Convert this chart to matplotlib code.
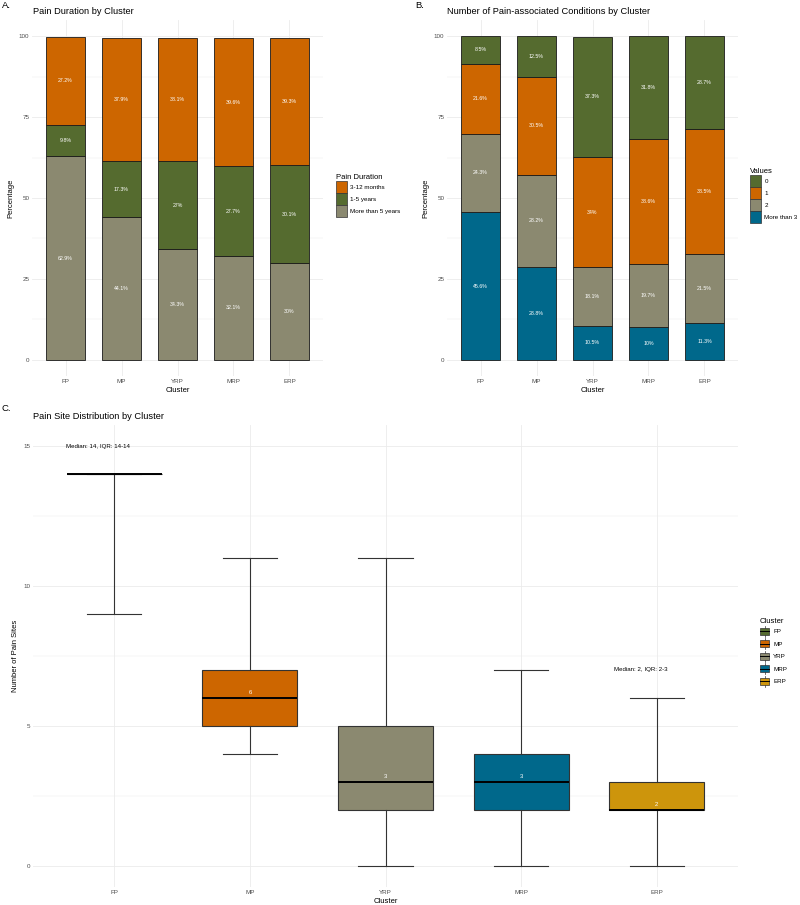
import matplotlib
matplotlib.use("Agg")
import matplotlib.pyplot as plt
import numpy as np
from matplotlib.patches import Patch, Rectangle
from matplotlib.lines import Line2D
from matplotlib.legend_handler import HandlerBase

plt.rcParams['font.family'] = ['Liberation Sans', 'DejaVu Sans']

# ---------------- data ----------------
clusters = ['FP', 'MP', 'YRP', 'MRP', 'ERP']

# Panel A: pain duration (%)
dur_more5 = [62.9, 44.1, 34.3, 32.1, 30.0]
dur_1to5 = [9.8, 17.3, 27.0, 27.7, 30.1]
dur_3to12 = [27.2, 37.9, 38.1, 39.6, 39.3]
dur_labels = ['3-12 months', '1-5 years', 'More than 5 years']

# Panel B: number of pain-associated conditions (%)
cond_more3 = [45.6, 28.8, 10.5, 10.0, 11.3]
cond_2 = [24.3, 28.2, 18.1, 19.7, 21.5]
cond_1 = [21.6, 30.5, 34.0, 38.6, 38.5]
cond_0 = [8.5, 12.5, 37.3, 31.8, 28.7]
cond_labels = ['0', '1', '2', 'More than 3']

# Panel C: pain sites box statistics
site_min = [9, 4, 0, 0, 0]
site_q1 = [14, 5, 2, 2, 2]
site_med = [14, 6, 3, 3, 2]
site_q3 = [14, 7, 5, 4, 3]
site_max = [14, 11, 11, 7, 6]
site_notes = {'FP': 'Median: 14, IQR: 14-14', 'ERP': 'Median: 2, IQR: 2-3'}

# ---------------- style ----------------
GREEN = '#556B2F'
ORANGE = '#CD6600'
GRAY = '#8B8970'
BLUE = '#00688B'
GOLD = '#CD950C'
cluster_colors = [GREEN, ORANGE, GRAY, BLUE, GOLD]
GRID = '#EBEBEB'
TICK = '#4D4D4D'

W, H = 800, 905
fig = plt.figure(figsize=(W / 100, H / 100), dpi=100)


def ax_px(l, t, r, b):
    return fig.add_axes([l / W, 1 - b / H, (r - l) / W, (b - t) / H])


def style(ax, yticks, yminor):
    for s in ax.spines.values():
        s.set_visible(False)
    ax.set_yticks(yticks)
    ax.set_yticks(yminor, minor=True)
    ax.tick_params(axis='both', which='both', length=0, labelsize=4.5,
                   labelcolor=TICK, pad=2)
    ax.grid(True, which='major', color=GRID, lw=0.6)
    ax.grid(True, which='minor', axis='y', color=GRID, lw=0.35)
    ax.set_axisbelow(True)


x = np.arange(len(clusters))
LEG_KW = dict(frameon=False, fontsize=4.5, title_fontsize=5.5, handlelength=1.7,
              handleheight=2.6, labelspacing=0.0, handletextpad=0.6,
              borderpad=0, borderaxespad=0, alignment='left')

# ---------------- Panel A ----------------
axA = ax_px(32, 20, 323, 376)
segsA = [(dur_more5, GRAY), (dur_1to5, GREEN), (dur_3to12, ORANGE)]
bottom = np.zeros(len(clusters))
for vals, col in segsA:
    v = np.array(vals)
    axA.bar(x, v, bottom=bottom, width=0.7, color=col, edgecolor='#1a1a1a', lw=0.6)
    for xi, b, vi in zip(x, bottom, v):
        axA.text(xi, b + vi / 2, f'{vi:g}%', ha='center', va='center',
                 color='white', fontsize=3.8)
    bottom += v
axA.set_xlim(-0.6, len(clusters) - 0.4)
axA.set_ylim(-5, 105)
axA.set_xticks(x)
axA.set_xticklabels(clusters)
style(axA, [0, 25, 50, 75, 100], [12.5, 37.5, 62.5, 87.5])
axA.set_xlabel('Cluster', fontsize=5.5, labelpad=2)
axA.set_ylabel('Percentage', fontsize=5.5, labelpad=3)
fig.text(33 / W, 1 - 12 / H, 'Pain Duration by Cluster', fontsize=6.7, va='center', ha='left')
fig.text(2 / W, 1 - 6 / H, 'A.', fontsize=6.8, va='center', ha='left')
hA = [Patch(facecolor=c, edgecolor='#333333', lw=0.5) for c in [ORANGE, GREEN, GRAY]]
fig.legend(hA, dur_labels, loc='upper left', bbox_to_anchor=(336 / W, 1 - 174 / H),
           title='Pain Duration', **LEG_KW)

# ---------------- Panel B ----------------
axB = ax_px(447, 20, 738, 376)
segsB = [(cond_more3, BLUE), (cond_2, GRAY), (cond_1, ORANGE), (cond_0, GREEN)]
bottom = np.zeros(len(clusters))
for vals, col in segsB:
    v = np.array(vals)
    axB.bar(x, v, bottom=bottom, width=0.7, color=col, edgecolor='#1a1a1a', lw=0.6)
    for xi, b, vi in zip(x, bottom, v):
        axB.text(xi, b + vi / 2, f'{vi:g}%', ha='center', va='center',
                 color='white', fontsize=3.8)
    bottom += v
axB.set_xlim(-0.6, len(clusters) - 0.4)
axB.set_ylim(-5, 105)
axB.set_xticks(x)
axB.set_xticklabels(clusters)
style(axB, [0, 25, 50, 75, 100], [12.5, 37.5, 62.5, 87.5])
axB.set_xlabel('Cluster', fontsize=5.5, labelpad=2)
axB.set_ylabel('Percentage', fontsize=5.5, labelpad=3)
fig.text(447 / W, 1 - 12 / H, 'Number of Pain-associated Conditions by Cluster',
         fontsize=6.7, va='center', ha='left')
fig.text(415 / W, 1 - 6 / H, 'B.', fontsize=6.8, va='center', ha='left')
hB = [Patch(facecolor=c, edgecolor='#333333', lw=0.5) for c in [GREEN, ORANGE, GRAY, BLUE]]
fig.legend(hB, cond_labels, loc='upper left', bbox_to_anchor=(750 / W, 1 - 168 / H),
           title='Values', **LEG_KW)

# ---------------- Panel C ----------------
axC = ax_px(33, 425, 738, 887)
stats = []
for i, c in enumerate(clusters):
    stats.append(dict(label=c, whislo=site_min[i], q1=site_q1[i], med=site_med[i],
                      q3=site_q3[i], whishi=site_max[i], fliers=[]))
bp = axC.bxp(stats, positions=x, widths=0.7, capwidths=0.4, patch_artist=True,
             showfliers=False,
             boxprops=dict(edgecolor='#333333', lw=0.8),
             medianprops=dict(color='black', lw=1.4),
             whiskerprops=dict(color='#333333', lw=0.8),
             capprops=dict(color='#333333', lw=0.8))
for patch, col in zip(bp['boxes'], cluster_colors):
    patch.set_facecolor(col)
for i, c in enumerate(clusters):
    if c != 'FP':
        axC.text(x[i], site_med[i] + 0.12, f'{site_med[i]}', ha='center', va='bottom',
                 color='white', fontsize=4.2)
    if c in site_notes:
        axC.text(x[i] - 0.12, site_max[i] + 1, site_notes[c], ha='center', va='center',
                 color='black', fontsize=4.4)
axC.set_xlim(-0.6, len(clusters) - 0.4)
axC.set_ylim(-0.75, 15.75)
axC.set_xticks(x)
axC.set_xticklabels(clusters)
style(axC, [0, 5, 10, 15], [2.5, 7.5, 12.5])
axC.set_xlabel('Cluster', fontsize=5.5, labelpad=2)
axC.set_ylabel('Number of Pain Sites', fontsize=5.5, labelpad=3)
fig.text(33 / W, 1 - 416 / H, 'Pain Site Distribution by Cluster', fontsize=6.7,
         va='center', ha='left')
fig.text(2 / W, 1 - 408 / H, 'C.', fontsize=6.8, va='center', ha='left')


class BoxHandler(HandlerBase):
    def create_artists(self, legend, orig_handle, xdescent, ydescent, width, height,
                       fontsize, trans):
        fc = orig_handle.get_facecolor()
        x0, y0 = -xdescent, -ydescent
        vl = Line2D([x0 + width / 2] * 2, [y0 + height * 0.05, y0 + height * 0.95],
                    color='#333333', lw=0.5)
        rect = Rectangle((x0 + width * 0.05, y0 + height * 0.22), width * 0.9, height * 0.56,
                         facecolor=fc, edgecolor='#333333', lw=0.5)
        med = Line2D([x0 + width * 0.05, x0 + width * 0.95], [y0 + height / 2] * 2,
                     color='black', lw=0.7)
        for a in (vl, rect, med):
            a.set_transform(trans)
        return [vl, rect, med]


hC = [Patch(facecolor=c) for c in cluster_colors]
legC_kw = dict(LEG_KW)
legC_kw.update(handlelength=1.5, handleheight=2.7)
fig.legend(hC, clusters, loc='upper left', bbox_to_anchor=(760 / W, 1 - 618 / H),
           title='Cluster', handler_map={Patch: BoxHandler()}, **legC_kw)

fig.savefig('out.png', dpi=100)
